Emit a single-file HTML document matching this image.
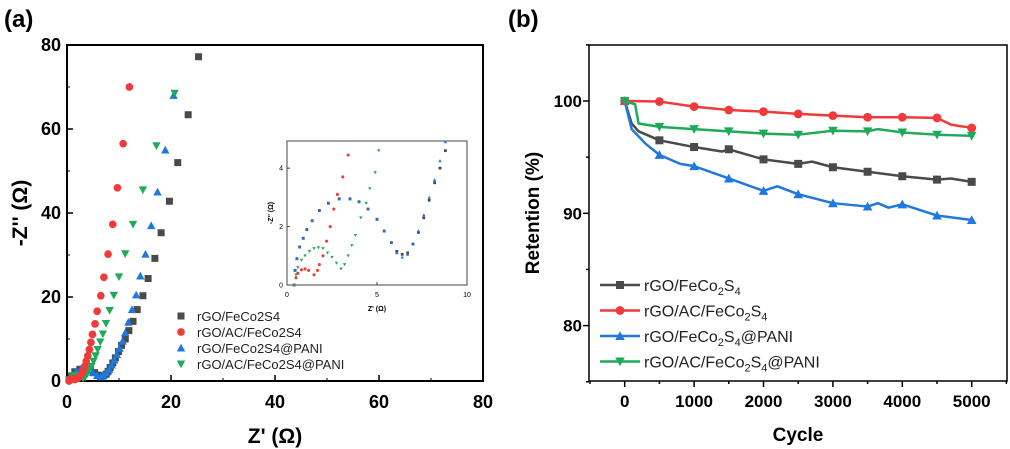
<!DOCTYPE html>
<html><head><meta charset="utf-8">
<style>
html,body{margin:0;padding:0;background:#fff;}
svg{display:block;font-family:"Liberation Sans",Arial,sans-serif;}
</style></head>
<body>
<svg id="fig" width="1010" height="449" viewBox="0 0 1010 449" xmlns="http://www.w3.org/2000/svg">
<text x="4" y="27" font-size="24" font-weight="bold">(a)</text>
<text x="508" y="27" font-size="24" font-weight="bold">(b)</text>
<g id="ga"></g>
<g id="gi"></g>
<g id="gb"></g>
</svg>
<script>
// ---- Panel (a) data ----
const aNames = ["rGO/FeCo2S4","rGO/AC/FeCo2S4","rGO/FeCo2S4@PANI","rGO/AC/FeCo2S4@PANI"];
const aGrayX = [25.3,23.3,21.3,19.7,18.1,16.9,15.6,14.6,13.5,12.7,11.9,11.2,10.5,9.9,9.3,8.8,8.3,7.9,7.5,7,6.5,6,5.3,4.5,3.5,2.5,1.5,0.8,0.4];
const aGrayY = [77.2,63.4,52,42.8,35.3,29.2,24.4,20.3,17,14.2,12,10,8.5,7,5.5,4.3,3.2,2.3,1.6,1.2,1.1,1.4,2,2.6,2.9,2.8,2.2,1.2,0.3];
const aRedX = [12,10.8,9.7,8.8,7.9,7.1,6.5,5.8,5.4,4.9,4.6,4.3,4,3.7,3.4,3.1,2.8,2.4,2,1.5,1,0.6,0.4];
const aRedY = [70,56.5,46,37.3,30.2,24.7,20.3,16.6,13.6,11.1,9.2,7.5,6,4.7,3.5,2.5,1.7,1,0.6,0.35,0.55,0.4,0];
const aBlueX = [20.5,18.9,17.4,16.2,15.1,14.1,13.3,12.5,11.8,11.2,10.7,10.1,9.6,9.1,8.6,8.1,7.6,7,6.5,5.8,5,4.2,3.5,2.6,1.8,1,0.5];
const aBlueY = [68,55,45,37,30.2,25,20.5,17,14,11.5,9.5,7.8,6.3,5,3.8,2.8,2,1.3,1,1.3,2,2.6,2.9,2.8,2.3,1.5,0.5];
const aGreenX = [20.7,17.2,14.6,12.7,11.2,10,9,8.2,7.5,6.9,6.4,5.9,5.5,5.1,4.7,4.3,3.9,3.5,3.1,2.5,1.7,1,0.5];
const aGreenY = [68.5,56,45.5,37.3,30.3,24.8,20.4,16.8,13.7,11.2,9.3,7.5,6,4.7,3.5,2.5,1.7,1,0.6,1,1.3,1,0.3];
const aTicks = [0,20,40,60,80];
// ---- Inset data ----
const iSemiX = [0.4,0.45,0.55,0.7,0.9,1.1,1.4,1.8,2.3,2.9,3.5,4,4.5,5,5.4,5.8,6.1,6.4,6.7,7,7.3,7.6,7.9,8.2,8.5,8.8];
const iGrayY = [0,0.5,0.9,1.3,1.6,1.9,2.2,2.55,2.8,2.95,2.95,2.85,2.6,2.25,1.85,1.45,1.15,1.05,1.1,1.4,1.8,2.3,2.9,3.5,4.0,4.6];
const iBlueY = [0,0.5,0.9,1.3,1.6,1.9,2.2,2.55,2.8,2.95,2.95,2.85,2.6,2.25,1.85,1.45,1.1,0.95,1.05,1.4,1.85,2.4,3.0,3.6,4.25,4.9];
const iRedX = [0.4,0.5,0.6,0.8,1,1.2,1.5,1.7,1.8,2,2.2,2.4,2.6,2.8,3.1,3.4];
const iRedY = [0,0.25,0.4,0.52,0.55,0.5,0.35,0.5,0.7,1,1.5,2,2.6,3.1,3.7,4.45];
const iGreenX = [0.4,0.5,0.6,0.8,1,1.25,1.5,1.75,2,2.25,2.5,2.75,3,3.2,3.4,3.6,3.8,4.1,4.4,4.6,4.9,5.1];
const iGreenY = [0,0.35,0.6,0.85,1,1.15,1.25,1.28,1.25,1.1,0.95,0.75,0.55,0.7,1,1.35,1.7,2.3,2.8,3.3,3.85,4.6];
const iXTicks = [0,5,10];
const iYTicks = [0,2,4];
// ---- Panel (b) data ----
const bNames = ["rGO/FeCo", "rGO/AC/FeCo", "rGO/FeCo", "rGO/AC/FeCo"];
const bSuffix = ["", "", "@PANI", "@PANI"];
const bGrayX = [0,100,200,500,1000,1400,1500,2000,2500,2700,3000,3500,4000,4500,4700,5000];
const bGrayY = [100,98,97.3,96.5,95.9,95.5,95.7,94.8,94.4,94.6,94.1,93.7,93.3,93.0,93.1,92.8];
const bRedX = [0,500,1000,1500,2000,2500,3000,3500,4000,4500,4700,5000];
const bRedY = [100,99.95,99.5,99.2,99.05,98.85,98.7,98.55,98.55,98.5,97.9,97.6];
const bBlueX = [0,100,300,500,800,1000,1500,2000,2200,2500,3000,3500,3650,3800,4000,4500,5000];
const bBlueY = [100,97.5,96.2,95.2,94.4,94.2,93.1,92.0,92.4,91.7,90.9,90.6,90.9,90.5,90.8,89.8,89.4];
const bGreenX = [0,150,200,500,1000,1500,2000,2500,3000,3500,3650,4000,4500,5000];
const bGreenY = [100,99.7,98.0,97.7,97.5,97.3,97.1,97.0,97.35,97.3,97.5,97.2,97.0,96.9];
const bXTicks = [0,1000,2000,3000,4000,5000];
const bYTicks = [80,90,100];

const NS="http://www.w3.org/2000/svg";
const COL=["#4a4a4a","#f03a3a","#1f77e0","#1faa5a"];
function mk(tag,attrs,parent){const e=document.createElementNS(NS,tag);for(const k in attrs)e.setAttribute(k,attrs[k]);parent.appendChild(e);return e;}
function marker(type,cx,cy,s,color,parent){
  let e;
  if(type===0) e=mk("rect",{x:cx-s,y:cy-s,width:2*s,height:2*s,fill:color},parent);
  else if(type===1) e=mk("circle",{cx:cx,cy:cy,r:s*1.1,fill:color},parent);
  else if(type===2) e=mk("polygon",{points:`${cx},${cy-s*1.2} ${cx-s*1.2},${cy+s} ${cx+s*1.2},${cy+s}`,fill:color},parent);
  else e=mk("polygon",{points:`${cx},${cy+s*1.2} ${cx-s*1.2},${cy-s} ${cx+s*1.2},${cy-s}`,fill:color},parent);
  return e;
}

// ---- Panel a ----
(function(){
  const g=document.getElementById("ga");
  const L=67,R=483,T=45,B=381;
  const sx=v=>L+(v/80)*(R-L), sy=v=>B-(v/80)*(B-T);
  const frame=mk("rect",{x:L,y:T,width:R-L,height:B-T,fill:"none",stroke:"#000","stroke-width":2},g);
  
  
  aTicks.forEach(v=>{
    mk("line",{x1:sx(v),y1:B,x2:sx(v),y2:B-6,stroke:"#000","stroke-width":1.5},g);
    mk("line",{x1:L,y1:sy(v),x2:L+6,y2:sy(v),stroke:"#000","stroke-width":1.5},g);
    const tx=mk("text",{x:sx(v),y:408,"font-size":18,"font-weight":"bold","text-anchor":"middle"},g);tx.textContent=v;
    
    
    const ty=mk("text",{x:L-6,y:sy(v)+6,"font-size":18,"font-weight":"bold","text-anchor":"end"},g);ty.textContent=v;
    
    
    if(v<80){
      mk("line",{x1:sx(v+10),y1:B,x2:sx(v+10),y2:B-3,stroke:"#000","stroke-width":1},g);
      mk("line",{x1:L,y1:sy(v+10),x2:L+3,y2:sy(v+10),stroke:"#000","stroke-width":1},g);
    }
  });
  const xt=mk("text",{x:275,y:443,"font-size":21,"font-weight":"bold","text-anchor":"middle"},g);xt.textContent="Z' (Ω)";
  
  
  const yt=mk("text",{x:0,y:0,"font-size":21,"font-weight":"bold","text-anchor":"middle",transform:"translate(27,213) rotate(-90)"},g);yt.textContent="-Z'' (Ω)";
  
  
  const sets=[[aGrayX,aGrayY],[aRedX,aRedY],[aBlueX,aBlueY],[aGreenX,aGreenY]];
  [0,2,3,1].forEach(k=>{
    const sg=mk("g",{},g);
    
    
    sets[k][0].forEach((x,i)=>{const m=marker(k,sx(x),sy(sets[k][1][i]),3.5,COL[k],sg);
      
      });
  });
  aNames.forEach((n,k)=>{
    const y=316+k*16;
    const lg=mk("g",{},g);
    
    
    marker(k,181,y,3.5,COL[k],lg);
    const t=mk("text",{x:197,y:y+5,"font-size":13,fill:"#222"},lg);t.textContent=n;
  });
})();

// ---- Inset ----
(function(){
  const g=document.getElementById("gi");
  const L=287,R=467,T=141,B=285;
  const sx=v=>L+(v/10)*(R-L), sy=v=>B-(v/4.93)*(B-T);
  mk("rect",{x:L,y:T,width:R-L,height:B-T,fill:"#fff",stroke:"#444","stroke-width":1},g);
  iXTicks.forEach(v=>{
    mk("line",{x1:sx(v),y1:B,x2:sx(v),y2:B-3,stroke:"#444"},g);
    const t=mk("text",{x:sx(v),y:297,"font-size":7,"text-anchor":"middle"},g);t.textContent=v;
    
    
  });
  iYTicks.forEach(v=>{
    mk("line",{x1:L,y1:sy(v),x2:L+3,y2:sy(v),stroke:"#444"},g);
    const t=mk("text",{x:L-4,y:sy(v)+2.5,"font-size":7,"text-anchor":"end"},g);t.textContent=v;
    
    
  });
  const xt=mk("text",{x:377,y:311,"font-size":7,"font-weight":"bold","text-anchor":"middle"},g);xt.textContent="Z' (Ω)";
  
  
  const yt=mk("text",{x:0,y:0,"font-size":7,"font-weight":"bold","text-anchor":"middle",transform:"translate(273,213) rotate(-90)"},g);yt.textContent="-Z'' (Ω)";
  
  
  const sets=[[iSemiX,iGrayY],[iRedX,iRedY],[iSemiX,iBlueY],[iGreenX,iGreenY]];
  [0,2,1,3].forEach(k=>{
    const sg=mk("g",{},g);
    
    
    sets[k][0].forEach((x,i)=>{marker(k,sx(x),sy(sets[k][1][i]),1.4,COL[k],sg);});
  });
})();

// ---- Panel b ----
(function(){
  const g=document.getElementById("gb");
  const L=589,R=1007,T=45,B=381;
  const x0=624.7,x1=971.7,y100=101,y90=213.3;
  const sx=v=>x0+(v/5000)*(x1-x0), sy=v=>y100+(100-v)*(y90-y100)/10;
  const frame=mk("rect",{x:L,y:T,width:R-L,height:B-T,fill:"none",stroke:"#000","stroke-width":1.5},g);
  
  
  for(let v=-500;v<=5500;v+=500){
    const big=v%1000===0;
    mk("line",{x1:sx(v),y1:B,x2:sx(v),y2:B+(big?6:3),stroke:"#000","stroke-width":1.5},g);
  }
  for(let v=75;v<=105;v+=5){
    const big=v%10===0;
    mk("line",{x1:L,y1:sy(v),x2:L-(big?6:3),y2:sy(v),stroke:"#000","stroke-width":1.5},g);
  }
  bXTicks.forEach(v=>{
    const t=mk("text",{x:sx(v),y:407,"font-size":17,"font-weight":"bold","text-anchor":"middle"},g);t.textContent=v;
    
    
  });
  bYTicks.forEach(v=>{
    const t=mk("text",{x:582,y:sy(v)+6,"font-size":17,"font-weight":"bold","text-anchor":"end"},g);t.textContent=v;
    
    
  });
  const xt=mk("text",{x:798,y:441,"font-size":19,"font-weight":"bold","text-anchor":"middle"},g);xt.textContent="Cycle";
  
  
  const yt=mk("text",{x:0,y:0,"font-size":19,"font-weight":"bold","text-anchor":"middle",transform:"translate(539,213) rotate(-90)"},g);yt.textContent="Retention (%)";
  
  
  const sets=[[bGrayX,bGrayY],[bRedX,bRedY],[bBlueX,bBlueY],[bGreenX,bGreenY]];
  [0,2,1,3].forEach(k=>{
    const sg=mk("g",{},g);
    
    
    const xs=sets[k][0],ys=sets[k][1];
    const pts=xs.map((x,i)=>sx(x)+","+sy(ys[i])).join(" ");
    const pl=mk("polyline",{points:pts,fill:"none",stroke:COL[k],"stroke-width":2.5,"stroke-linejoin":"round"},sg);
    
    
    xs.forEach((x,i)=>{if(x%500===0){const m=marker(k,sx(x),sy(ys[i]),4,COL[k],sg);
      
      }});
  });
  bNames.forEach((n,k)=>{
    const y=285+k*25.5;
    const lg=mk("g",{},g);
    
    
    mk("line",{x1:600,y1:y,x2:640,y2:y,stroke:COL[k],"stroke-width":2.5},lg);
    marker(k,620,y,4,COL[k],lg);
    const t=mk("text",{x:644,y:y+6,"font-size":16,fill:"#222"},lg);
    t.innerHTML=n+'<tspan font-size="11" dy="4">2</tspan><tspan dy="-4">S</tspan><tspan font-size="11" dy="4">4</tspan><tspan dy="-4">'+bSuffix[k]+'</tspan>';
  });
})();
</script>
</body></html>
